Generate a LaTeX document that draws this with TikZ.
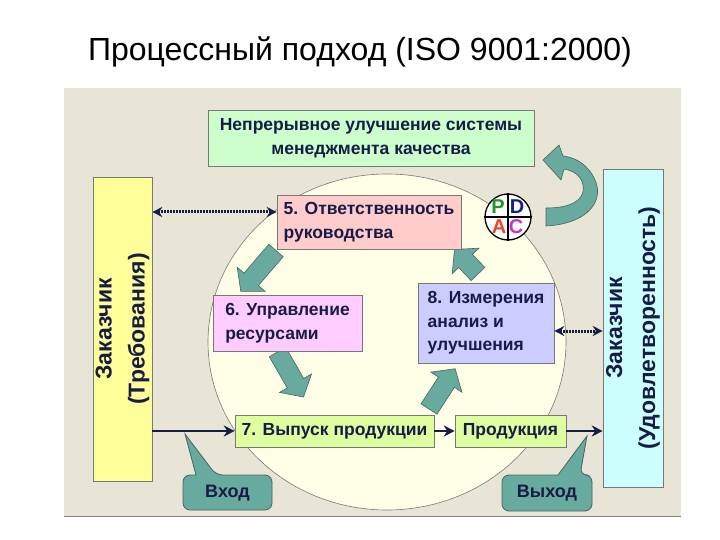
\documentclass[tikz,border=0pt]{standalone}
\usepackage{fontspec}
\setmainfont{Liberation Sans}
\usetikzlibrary{arrows.meta}
\definecolor{ink}{RGB}{22,28,70}
\definecolor{boxline}{RGB}{120,120,120}
\definecolor{bgbeige}{RGB}{232,229,215}
\definecolor{ivory}{RGB}{255,255,232}
\definecolor{tealfill}{RGB}{104,170,158}
\definecolor{tealline}{RGB}{70,100,100}
\newcommand{\blockarr}[3]{%
  \path[blockarrow, shift={#1}, rotate=#2]
    (0,-9.5) -- (#3-16,-9.5) -- (#3-16,-18.5) -- (#3,0)
    -- (#3-16,18.5) -- (#3-16,9.5) -- (0,9.5) -- cycle;}
\begin{document}
\begin{tikzpicture}[x=1pt, y=-1pt,
    box/.style={draw=boxline, line width=0.6pt, inner sep=0pt, text=ink,
      font=\bfseries\fontsize{17.5}{23.5}\selectfont, align=left},
    sidetext/.style={rotate=90, align=center, text=ink,
      font=\bfseries\fontsize{23}{33}\selectfont},
    flow/.style={draw=ink, line width=2.8pt, -{Stealth[length=11pt,width=11pt]}},
    dots/.style={draw=ink, line width=3pt, dash pattern=on 2pt off 1pt,
      {Stealth[length=10pt,width=10pt]}-{Stealth[length=10pt,width=10pt]}},
    blockarrow/.style={fill=tealfill, draw=tealline, line width=0.6pt},
    callout/.style={fill=tealfill, draw=tealline, line width=0.8pt},
    pdcal/.style={font=\bfseries\fontsize{20}{20}\selectfont, inner sep=0pt}]
  \useasboundingbox (0,0) rectangle (720,540);
  % title and background
  \node[font=\fontsize{32}{36}\selectfont] (title) at (360,52) {Процессный подход (ISO 9001:2000)};
  \fill[bgbeige] (64,88) rectangle (681,516);
  \draw[gray, line width=0.8pt] (64,516) -- (681,516);
  \draw[boxline, line width=0.6pt, fill=ivory] (387,342) ellipse [x radius=179pt, y radius=168pt];

  % cycle arrows
  \blockarr{(276,250.5)}{-130.7}{54}
  \blockarr{(277.5,352)}{-60}{52}
  \blockarr{(429,409)}{57}{48}
  \blockarr{(478,274)}{133.8}{34}

  % boxes
  \node[box, fill={rgb,255:red,204;green,255;blue,204}, align=center,
    minimum width=326pt, minimum height=56pt] (nepr) at (371,138)
    {Непрерывное улучшение системы\\менеджмента качества};
  \node[box, fill={rgb,255:red,255;green,204;blue,204},
    minimum width=184pt, minimum height=54pt] (b5) at (369,222)
    {5. Ответственность\\руководства};
  \node[box, fill={rgb,255:red,255;green,204;blue,255},
    minimum width=149pt, minimum height=56pt] (b6) at (287.5,323)
    {6. Управление\\ресурсами};
  \node[box, fill={rgb,255:red,204;green,204;blue,255},
    minimum width=136pt, minimum height=80pt] (b8) at (486,323)
    {8. Измерения\\анализ и\\улучшения};
  \node[box, fill={rgb,255:red,221;green,255;blue,160},
    minimum width=199pt, minimum height=32pt] (b7) at (334.5,431)
    {7. Выпуск продукции};
  \node[box, fill={rgb,255:red,221;green,255;blue,160},
    minimum width=111pt, minimum height=32pt] (prod) at (510.5,431)
    {Продукция};
  \node[box, fill={rgb,255:red,255;green,255;blue,153},
    minimum width=59pt, minimum height=304pt] (zak1) at (122.5,329) {};
  \node[sidetext] (zak1txt) at (zak1.center) {Заказчик\\(Требования)};
  \node[box, fill={rgb,255:red,204;green,255;blue,255},
    minimum width=60pt, minimum height=318pt] (zak2) at (633,328) {};
  \node[sidetext] (zak2txt) at (zak2.center) {Заказчик\\(Удовлетворенность)};

  % PDCA
  \node[draw, circle, fill=white, line width=1.3pt, minimum size=46pt, inner sep=0pt] (pdca) at (508,217) {};
  \draw[line width=1.3pt] (pdca.north) -- (pdca.south) (pdca.west) -- (pdca.east);
  \node[pdcal, text={rgb,255:red,30;green,150;blue,40}] (lp) at (498,207) {P};
  \node[pdcal, text={rgb,255:red,20;green,30;blue,140}] (ld) at (517,207) {D};
  \node[pdcal, text={rgb,255:red,240;green,70;blue,40}] (la) at (499,227) {A};
  \node[pdcal, text={rgb,255:red,200;green,50;blue,200}] (lc) at (516,227) {C};
  \path[blockarrow] (546,208) -- (546,226) .. controls (584,224) and (601,205) .. (597,186)
    .. controls (593,170) and (580,158) .. (563,156) -- (559,145) -- (543,160) -- (561,180)
    -- (564,169) .. controls (577,171) and (585,180) .. (583,192)
    .. controls (580,204) and (564,208) .. (546,208) -- cycle;

  % connectors
  \draw[flow] (b7.west -| zak1.east) -- (b7.west);
  \draw[flow] (b7) -- (prod);
  \draw[flow] (prod) -- (prod -| zak2.west);
  \coordinate (d5) at ([yshift=10pt]b5.west);
  \draw[dots] (d5 -| zak1.east) -- (d5);
  \coordinate (d8) at ([yshift=-8pt]b8.east);
  \draw[dots] (d8) -- (d8 -| zak2.west);

  % callouts
  \path[callout] (227,510) [rounded corners=7pt] -- (272,510) -- (272,475) -- (216,475)
    [sharp corners] -- (185,434) -- (196,475) [rounded corners=7pt] -- (183,475) -- (183,510) -- cycle;
  \node[text=ink, font=\bfseries\fontsize{18}{18}\selectfont] (vhod) at (227.5,493) {Вход};
  \path[callout] (547,511) [rounded corners=7pt] -- (592,511) -- (592,475) -- (580,475)
    [sharp corners] -- (587,436) -- (558,475) [rounded corners=7pt] -- (502,475) -- (502,511) -- cycle;
  \node[text=ink, font=\bfseries\fontsize{18}{18}\selectfont] (vyhod) at (547,493) {Выход};
\end{tikzpicture}
\end{document}
